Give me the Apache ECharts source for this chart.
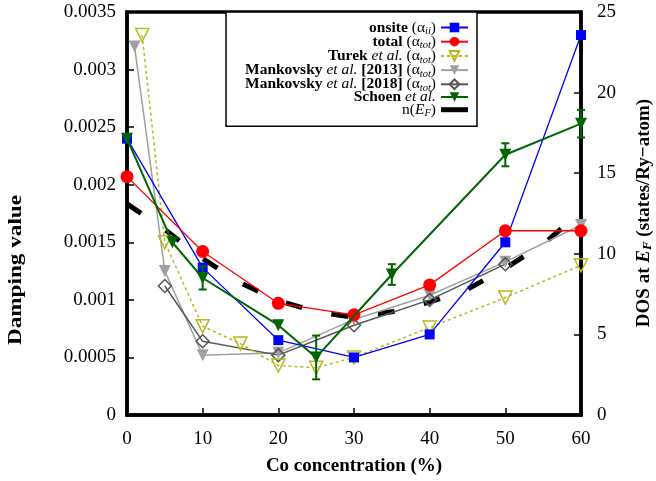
<!DOCTYPE html>
<html>
<head>
<meta charset="utf-8">
<script src="https://cdn.jsdelivr.net/npm/echarts@6/dist/echarts.min.js"></script>
<style>
  html, body { margin: 0; padding: 0; background: #fff; }
  #chart { width: 656px; height: 481px; }
</style>
</head>
<body>
<div id="chart"></div>
<script>
// Damping parameters vs Co concentration (left axis) and DOS at E_F (right axis)
const xTicks = [0, 10, 20, 30, 40, 50, 60];
const dampTicks = [0, 0.0005, 0.001, 0.0015, 0.002, 0.0025, 0.003, 0.0035];
const dosTicks = [0, 5, 10, 15, 20, 25];

const onsiteX = [0, 10, 20, 30, 40, 50, 60];
const onsiteY = [0.0024, 0.00128, 0.00065, 0.0005, 0.0007, 0.0015, 0.0033];

const totalX = [0, 10, 20, 30, 40, 50, 60];
const totalY = [0.00207, 0.00142, 0.00097, 0.00087, 0.00113, 0.0016, 0.0016];

const turekX = [2, 5, 10, 15, 20, 25, 30, 40, 50, 60];
const turekY = [0.0033, 0.0015, 0.00077, 0.00062, 0.00043, 0.00041, 0.0005, 0.00076, 0.00102, 0.0013];

const mank13X = [1, 5, 10, 20, 30, 40, 50, 60];
const mank13Y = [0.0032, 0.00125, 0.00052, 0.00054, 0.00083, 0.00104, 0.00133, 0.00165];

const mank18X = [5, 10, 20, 30, 40, 50];
const mank18Y = [0.00112, 0.00064, 0.00052, 0.00078, 0.001, 0.00131];

const schoenX = [0, 6, 10, 20, 25, 35, 50, 60];
const schoenY = [0.0024, 0.0015, 0.00119, 0.00078, 0.0005, 0.00122, 0.00226, 0.00253];
const schoenErr = [0, 0, 0.0001, 0, 0.00019, 0.00009, 0.0001, 0.00012];

const dosX = [0, 5, 10, 15, 20, 25, 30, 35, 40, 45, 50, 55, 60];
const dosY = [13.1, 11.5, 9.7, 8.2, 7.1, 6.4, 6.05, 6.4, 7.0, 7.8, 9.1, 10.6, 12.6];

const FONT = '"Liberation Serif", "DejaVu Serif", serif';
const pairs = (xs, ys) => xs.map((x, i) => [x, ys[i]]);

// legend labels as rich-text token strings
const names = {
  onsite: '{b|onsite}{g| (α}{s|ii}{g|)}',
  total: '{b|total}{g| (α}{s|tot}{g|)}',
  turek: '{b|Turek}{i| et al.}{g| (α}{s|tot}{g|)}',
  mank13: '{b|Mankovsky}{i| et al.}{b| [2013]}{g| (α}{s|tot}{g|)}',
  mank18: '{b|Mankovsky}{i| et al.}{b| [2018]}{g| (α}{s|tot}{g|)}',
  schoen: '{b|Schoen}{i| et al.}',
  dos: '{g|n(}{i|E}{s|F}{g|)}'
};

const LH = 13.8;
const LF = 15.5;
const rich = {
  b: { fontFamily: FONT, fontWeight: 'bold', fontSize: LF, color: '#000', lineHeight: LH },
  i: { fontFamily: FONT, fontStyle: 'italic', fontSize: LF, color: '#000', lineHeight: LH },
  g: { fontFamily: FONT, fontSize: LF, color: '#000', lineHeight: LH },
  s: { fontFamily: FONT, fontStyle: 'italic', fontSize: 10.5, color: '#000', lineHeight: 4, padding: [8, 0, 0, 0] }
};

const GREEN = '#006400';
const YEL = '#b8b820';
const AXW = 3.5;

const option = {
  animation: false,
  backgroundColor: '#fff',
  grid: { left: 127, right: 75, top: 12, bottom: 66, show: true, borderColor: '#000', borderWidth: AXW, backgroundColor: 'transparent' },
  legend: {
    orient: 'vertical',
    align: 'right',
    left: 226,
    top: 12,
    padding: [6, 8, 7, 19],
    itemGap: -4.8,
    itemWidth: 27,
    itemHeight: 12,
    backgroundColor: '#fff',
    borderColor: '#000',
    borderWidth: 1.5,
    borderRadius: 0,
    data: ['onsite', 'total', 'turek', 'mank13', 'mank18', 'schoen',
      { name: 'dos', icon: 'path://M0,0 L27,0 L27,5 L0,5 Z' }],
    formatter: n => names[n],
    textStyle: { fontFamily: FONT, fontSize: LF, lineHeight: LH, color: '#000', rich: rich }
  },
  xAxis: {
    type: 'value', min: 0, max: 60, interval: 10,
    axisLine: { show: true, lineStyle: { color: '#000', width: AXW } },
    axisTick: { show: true, inside: true, length: 7, lineStyle: { color: '#000', width: 1.5 } },
    axisLabel: { color: '#000', fontFamily: FONT, fontSize: 19, margin: 15,
      formatter: v => xTicks.includes(v) ? String(v) : '' },
    splitLine: { show: false }
  },
  yAxis: [{
    type: 'value', min: 0, max: 0.0035, interval: 0.0005,
    axisLine: { show: true, lineStyle: { color: '#000', width: AXW } },
    axisTick: { show: true, inside: true, length: 7, lineStyle: { color: '#000', width: 1.5 } },
    axisLabel: { color: '#000', fontFamily: FONT, fontSize: 19, margin: 11,
      formatter: v => String(dampTicks.find(t => Math.abs(t - v) < 1e-9) ?? '') },
    splitLine: { show: false }
  }, {
    type: 'value', min: 0, max: 25, interval: 5, position: 'right',
    axisLine: { show: true, lineStyle: { color: '#000', width: AXW } },
    axisTick: { show: true, inside: true, length: 7, lineStyle: { color: '#000', width: 1.5 } },
    axisLabel: { color: '#000', fontFamily: FONT, fontSize: 19, margin: 16,
      formatter: v => dosTicks.includes(v) ? String(v) : '' },
    splitLine: { show: false }
  }],
  graphic: [
    { type: 'text', x: 16, y: 270, rotation: Math.PI / 2, scaleX: 1.22,
      style: { text: 'Damping value', font: 'bold 19px ' + FONT, fill: '#000', align: 'center', verticalAlign: 'middle' } },
    { type: 'text', x: 354, y: 466,
      style: { text: 'Co concentration (%)', font: 'bold 19px ' + FONT, fill: '#000', align: 'center', verticalAlign: 'middle' } },
    { type: 'text', x: 644, y: 213, rotation: Math.PI / 2,
      style: { text: '{b|DOS at }{i|E}{s|F}{b| (states/Ry−atom)}', align: 'center', verticalAlign: 'middle',
        rich: {
          b: { font: 'bold 19px ' + FONT, fill: '#000', lineHeight: 20 },
          i: { font: 'italic bold 19px ' + FONT, fill: '#000', lineHeight: 20 },
          s: { font: 'italic bold 13px ' + FONT, fill: '#000', lineHeight: 7, verticalAlign: 'bottom' }
        } } }
  ],
  series: [
    { name: 'dos', type: 'line', yAxisIndex: 1, data: pairs(dosX, dosY), showSymbol: false, symbol: 'none', z: 3,
      lineStyle: { color: '#000', width: 5, type: [17, 30], cap: 'butt' }, itemStyle: { color: '#000' } },
    { name: 'mank13', type: 'line', data: pairs(mank13X, mank13Y), symbol: 'triangle', symbolRotate: 180, symbolSize: 12, z: 4,
      lineStyle: { color: '#a0a0a0', width: 1.5 }, itemStyle: { color: '#a0a0a0' } },
    { name: 'mank18', type: 'line', data: pairs(mank18X, mank18Y), symbol: 'diamond', symbolSize: 13, z: 4,
      lineStyle: { color: '#555', width: 1.5 }, itemStyle: { color: 'rgba(255,255,255,0)', borderColor: '#555', borderWidth: 1.5 } },
    { name: 'turek', type: 'line', data: pairs(turekX, turekY), symbol: 'triangle', symbolRotate: 180, symbolSize: 13, z: 5,
      lineStyle: { color: YEL, width: 1.5, type: [3, 3] }, itemStyle: { color: 'rgba(255,255,255,0)', borderColor: YEL, borderWidth: 1.5 } },
    { name: 'onsite', type: 'line', data: pairs(onsiteX, onsiteY), symbol: 'rect', symbolSize: 10, z: 5,
      lineStyle: { color: '#0000ff', width: 1.3 }, itemStyle: { color: '#0000ff' } },
    { name: 'total', type: 'line', data: pairs(totalX, totalY), symbol: 'circle', symbolSize: 13, z: 5,
      lineStyle: { color: '#ff0000', width: 1.3 }, itemStyle: { color: '#ff0000' } },
    { name: 'schoen', type: 'line', data: pairs(schoenX, schoenY), symbol: 'triangle', symbolRotate: 180, symbolSize: 12, z: 6,
      lineStyle: { color: GREEN, width: 2 }, itemStyle: { color: GREEN } },
    { type: 'custom', z: 6, silent: true,
      data: schoenX.map((x, i) => [x, schoenY[i], schoenErr[i]]).filter(d => d[2] > 0),
      renderItem: (params, api) => {
        const x = api.value(0), y = api.value(1), e = api.value(2);
        const top = api.coord([x, y + e]);
        const bot = api.coord([x, y - e]);
        const cap = 4;
        const st = { stroke: GREEN, lineWidth: 2 };
        return { type: 'group', children: [
          { type: 'line', shape: { x1: top[0], y1: top[1], x2: bot[0], y2: bot[1] }, style: st },
          { type: 'line', shape: { x1: top[0] - cap, y1: top[1], x2: top[0] + cap, y2: top[1] }, style: st },
          { type: 'line', shape: { x1: bot[0] - cap, y1: bot[1], x2: bot[0] + cap, y2: bot[1] }, style: st }
        ] };
      } }
  ]
};

const chart = echarts.init(document.getElementById('chart'), null, { renderer: 'canvas' });
chart.setOption(option);
</script>
</body>
</html>
